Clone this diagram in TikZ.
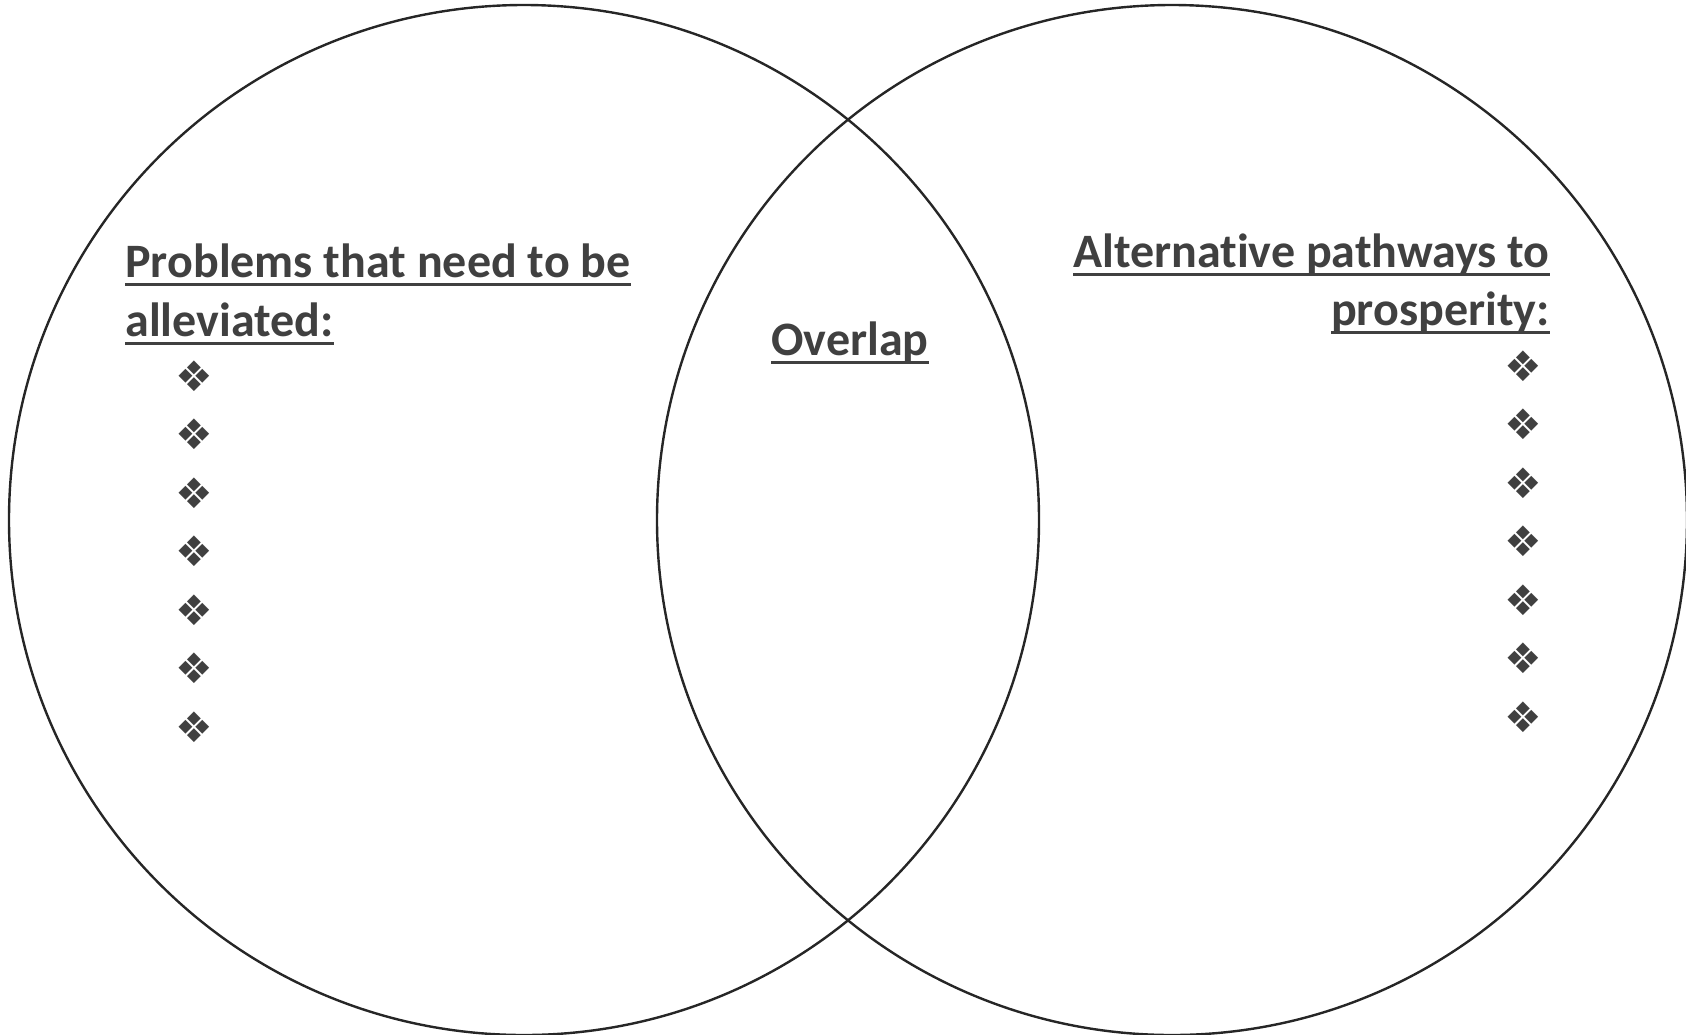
\documentclass[tikz,border=0pt]{standalone}
\usepackage{fontspec}
\setmainfont{Carlito}[Ligatures=NoCommon]
\newfontfamily\bulletfont{DejaVu Sans}
\definecolor{txtgray}{HTML}{404040}
\definecolor{ringgray}{HTML}{262626}
\newcommand\ulined[1]{\setbox0\hbox{#1}\rlap{\rule[-4.6pt]{\wd0}{1.7pt}}\box0}

\begin{document}
\begin{tikzpicture}[x=0.5pt, y=-0.5pt,
    venn/.style={draw=ringgray, line width=1.2pt, circle, minimum size=515pt, inner sep=0pt},
    heading/.style={inner sep=0pt, text=txtgray, font=\fontsize{24}{29}\selectfont\bfseries},
    bullet/.style={inner sep=0pt, text=txtgray, font=\bulletfont\fontsize{21}{21}\selectfont}]
    \useasboundingbox (0,0) rectangle (1686,1034);

    % the two sets
    \node[venn] (left) at (524,520) {};
    \node[venn] (right) at (1172,520) {};

    % headings
    \node[heading, anchor=base west] (probA) at (125,277) {\ulined{Problems that need to be}};
    \node[heading, anchor=base west] (probB) at (125,336) {\ulined{alleviated:}};
    \node[heading, anchor=base] (overlap) at (850,355) {\ulined{Overlap}};
    \node[heading, anchor=base east] (pathA) at (1550,267) {\ulined{Alternative pathways to}};
    \node[heading, anchor=base east] (pathB) at (1550,325) {\ulined{prosperity:}};

    % bullet columns
    \foreach \i in {0,...,6} {
        \node[bullet] (lb\i) at (194,{376+58.5*\i}) {❖};
        \node[bullet] (rb\i) at (1523,{366+58.5*\i}) {❖};
    }
\end{tikzpicture}
\end{document}
